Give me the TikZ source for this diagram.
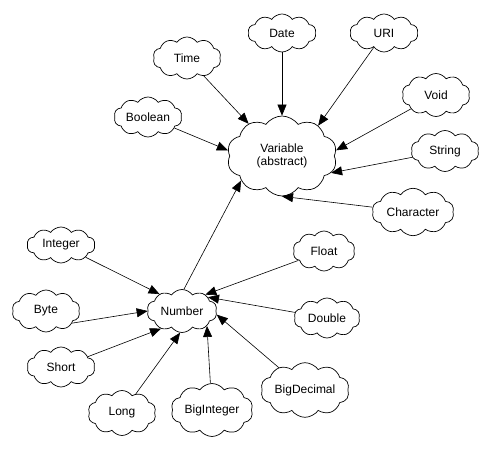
\documentclass[tikz,border=0pt]{standalone}
\usepackage{fontspec}
\setmainfont{Liberation Sans}
\usetikzlibrary{shapes.symbols,arrows.meta}

\tikzset{
  puff/.style={cloud, cloud puffs=10, cloud puff arc=110, aspect=2, draw, line width=0.7pt, inner sep=0pt, font=\fontsize{12}{13.5}\selectfont},
  arr/.style={line width=0.6pt, -{Triangle[length=11pt,width=9pt]}}
}

\begin{document}
\begin{tikzpicture}[x=1pt,y=-1pt]
\useasboundingbox (0,0) rectangle (490,449);
% top group
\node[puff, minimum width=110pt, minimum height=80pt, align=center] (variable) at (282,156) {Variable\\(abstract)};
\node[puff, minimum width=68pt, minimum height=38pt] (date) at (282,33) {Date};
\node[puff, minimum width=68pt, minimum height=38pt] (uri) at (384,33) {URI};
\node[puff, minimum width=68pt, minimum height=42pt] (time) at (187,58) {Time};
\node[puff, minimum width=68pt, minimum height=40pt] (boolean) at (148,117) {Boolean};
\node[puff, minimum width=68pt, minimum height=43pt] (void) at (436,95) {Void};
\node[puff, minimum width=68pt, minimum height=41pt] (string) at (445,151) {String};
\node[puff, minimum width=82pt, minimum height=42pt] (character) at (413,212) {Character};

% bottom group
\node[puff, minimum width=70pt, minimum height=43pt] (number) at (182,311) {Number};
\node[puff, minimum width=68pt, minimum height=36pt] (integer) at (61,245) {Integer};
\node[puff, minimum width=68pt, minimum height=42pt] (byte) at (46,311) {Byte};
\node[puff, minimum width=68pt, minimum height=40pt] (short) at (61,367) {Short};
\node[puff, minimum width=68pt, minimum height=45pt] (long) at (122,413) {Long};
\node[puff, minimum width=82pt, minimum height=53pt] (biginteger) at (212,410) {BigInteger};
\node[puff, minimum width=87pt, minimum height=52pt] (bigdecimal) at (305,390) {BigDecimal};
\node[puff, minimum width=66pt, minimum height=40pt] (double) at (327,318) {Double};
\node[puff, minimum width=62pt, minimum height=40pt] (float) at (324,251) {Float};

% source / arrow end angle on the hub
\foreach \n/\a in {time/136,date/90,uri/40,void/6,string/-19,character/-90,boolean/174}
  \draw[arr] (\n) -- (variable.\a);
\draw[arr] (number.85) -- (variable.-149);
\foreach \n/\a in {integer/143,short/-140,long/-95,biginteger/-31,bigdecimal/-6,double/28,float/35}
  \draw[arr] (\n) -- (number.\a);
\draw[arr] (byte.-25) -- (number.180);
\end{tikzpicture}
\end{document}
